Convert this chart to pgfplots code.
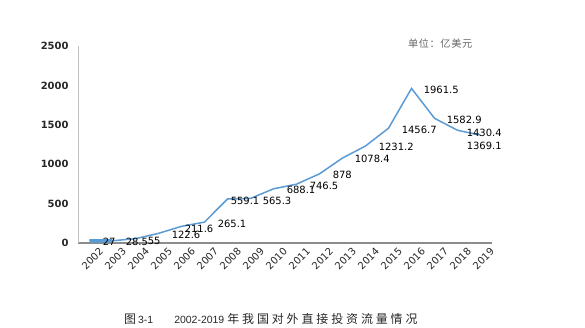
\documentclass[border=0pt]{standalone}
\usepackage{pgfplots}
\pgfplotsset{compat=1.18}
\usepackage{fontspec}
\setmainfont{DejaVu Sans}
\newfontfamily\cjk{Noto Sans CJK SC}
\newfontfamily\lsans{Liberation Sans}
\definecolor{lineblue}{HTML}{5B9BD5}
\pgfplotstableread{
x y dx dy label
0 27 12.5 -1 27
1 28.5 12.5 -1 28.5
2 55 11.5 -2 55
3 122.6 12.5 -2 122.6
4 211.6 2.5 -3 211.6
5 265.1 12.5 -2 265.1
6 559.1 2.5 -2 559.1
7 565.3 11.5 -2.5 565.3
8 688.1 12.5 -1 688.1
9 746.5 12.5 -2 746.5
10 878 12.5 -1 878
11 1078.4 11.5 -1 1078.4
12 1231.2 12.5 -1 1231.2
13 1456.7 12.5 -2 1456.7
14 1961.5 11.5 -1.6 1961.5
15 1582.9 11.5 -2 1582.9
16 1430.4 8.5 -3 1430.4
17 1369.1 -14.5 -11 1369.1
}\fdi
\def\g{\kern2.9bp}
\def\u{\kern0.6bp}
\begin{document}
\begin{tikzpicture}[x=1bp,y=1bp]
\useasboundingbox (0,0) rectangle (585,-327);
\begin{axis}[
  at={(78bp,-243bp)}, anchor=south west,
  scale only axis, width=414bp, height=197bp,
  xmin=-0.5, xmax=17.5, ymin=0, ymax=2500,
  clip=false,
  axis lines=left, axis line style={-},
  x axis line style={draw=black!45, line width=1.8bp},
  y axis line style={draw=black!25, line width=0.8bp},
  xtick={0,...,17},
  xticklabels={2002,2003,2004,2005,2006,2007,2008,2009,2010,2011,2012,2013,2014,2015,2016,2017,2018,2019},
  xticklabel style={rotate=45, anchor=east, font=\fontsize{10}{10}\selectfont, text=black!85, xshift=5bp, yshift=-13bp, inner sep=1bp},
  ytick={0,500,1000,1500,2000,2500},
  yticklabel style={font=\fontsize{10}{10}\selectfont\bfseries, text=black!85, xshift=-6bp},
  major tick length=0pt,
  /pgf/number format/assume math mode=true,
  /pgf/number format/1000 sep={},
]
\addplot[color=lineblue, line width=1.5bp, mark=none,
  nodes near coords,
  point meta=explicit symbolic,
  visualization depends on={\thisrow{dx} \as \dx},
  visualization depends on={\thisrow{dy} \as \dy},
  every node near coord/.style={anchor=west, inner sep=0pt, font=\fontsize{10}{10}\selectfont, text=black, xshift=\dx bp, yshift=\dy bp},
  ] table[x=x, y=y, meta=label] {\fdi};
\addplot[color=lineblue, line width=3.5bp, mark=none] table[x=x, y=y] {
x y
0 27
1 28.5
};
\end{axis}
\node[anchor=west, inner sep=0pt, text=black!60, font=\cjk\fontsize{10.2}{10.2}\selectfont] at (408,-44) {单\u 位\u ：\u 亿\u 美\u 元};
\node[anchor=west, inner sep=0pt, text=black!85, font=\cjk\fontsize{12}{12}\selectfont] at (124,-319) {图\kern2bp{\lsans\fontsize{10.5}{10.5}\selectfont 3-1}\kern21bp{\lsans\fontsize{10.5}{10.5}\selectfont 2002-2019}\kern3bp 年\g 我\g 国\g 对\g 外\g 直\g 接\g 投\g 资\g 流\g 量\g 情\g 况};
\end{tikzpicture}
\end{document}
